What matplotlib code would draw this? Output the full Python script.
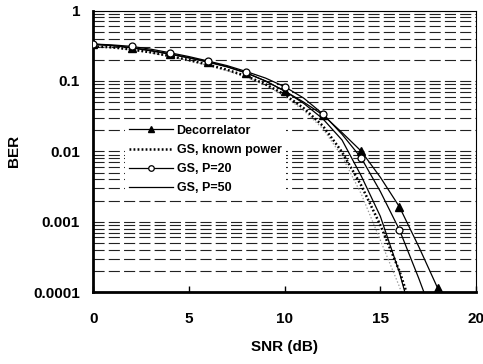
import matplotlib
matplotlib.use("Agg")
import matplotlib.pyplot as plt
from matplotlib.ticker import LogLocator, FixedLocator, NullFormatter

plt.rcParams['font.family'] = ['Liberation Sans', 'DejaVu Sans']
plt.rcParams['font.weight'] = 'bold'
plt.rcParams['lines.scale_dashes'] = False

snr_decor = [0, 1, 2, 3, 4, 5, 6, 7, 8, 9, 10, 11, 12, 13, 14, 15, 16, 17, 18]
ber_decor = [0.335, 0.318, 0.295, 0.268, 0.24, 0.212, 0.185, 0.158, 0.13, 0.1,
             0.072, 0.05, 0.033, 0.0185, 0.0101, 0.0043, 0.00163, 0.00045, 0.000114]

snr_known = [0, 1, 2, 3, 4, 5, 6, 7, 8, 9, 10, 11, 12, 13, 14, 15, 16, 17]
ber_known = [0.31, 0.30, 0.28, 0.255, 0.226, 0.198, 0.17, 0.144, 0.117, 0.09,
             0.064, 0.041, 0.023, 0.0098, 0.0033, 0.0009, 0.0002, 0.00003]

snr_grey = [0, 1, 2, 3, 4, 5, 6, 7, 8, 9, 10, 11, 12, 13, 14, 15, 16, 17]
ber_grey = [0.31, 0.298, 0.277, 0.252, 0.222, 0.194, 0.166, 0.14, 0.113, 0.087,
            0.061, 0.038, 0.021, 0.0085, 0.0025, 0.00055, 0.00012, 0.00002]

snr_p20 = [0, 1, 2, 3, 4, 5, 6, 7, 8, 9, 10, 11, 12, 13, 14, 15, 16, 17, 18]
ber_p20 = [0.335, 0.325, 0.31, 0.283, 0.252, 0.222, 0.192, 0.165, 0.136, 0.11,
           0.083, 0.057, 0.034, 0.0175, 0.0081, 0.0027, 0.00077, 0.00016, 0.00003]

snr_p50 = [0, 1, 2, 3, 4, 5, 6, 7, 8, 9, 10, 11, 12, 13, 14, 15, 16, 17]
ber_p50 = [0.33, 0.318, 0.298, 0.272, 0.243, 0.215, 0.187, 0.16, 0.13, 0.1,
           0.072, 0.048, 0.029, 0.0145, 0.0045, 0.0012, 0.00019, 0.00002]

labels = ['Decorrelator', 'GS, known power', 'GS, P=20', 'GS, P=50']
x_ticks = [0, 5, 10, 15, 20]
y_ticks = [0.0001, 0.001, 0.01, 0.1, 1]
y_ticklabels = ['0.0001', '0.001', '0.01', '0.1', '1']

fig = plt.figure(figsize=(4.83, 3.64), dpi=100)
ax = fig.add_axes([0.1932, 0.197, 0.7923, 0.774])

ax.set_yscale('log')
ax.set_xlim(0, 20)
ax.set_ylim(0.0001, 1)

# horizontal dashed grid at every decade sub-division
ax.yaxis.set_minor_locator(LogLocator(base=10, subs=range(2, 10)))
ax.yaxis.set_minor_formatter(NullFormatter())
ax.grid(True, axis='y', which='both', color='#222222', linewidth=0.8,
        linestyle=(0, (8, 3)))
ax.set_axisbelow(True)

ax.plot(snr_grey, ber_grey, color='#999999', linestyle=(0, (1, 1.5)),
        linewidth=0.9, zorder=2)
l1, = ax.plot(snr_decor, ber_decor, color='black', linewidth=0.9, marker='^',
              markersize=5.5, markevery=2, markerfacecolor='black', zorder=3,
              label=labels[0])
l2, = ax.plot(snr_known, ber_known, color='black', linewidth=1.8,
              linestyle=(0, (1.3, 1.6)), zorder=3, label=labels[1])
l3, = ax.plot(snr_p20, ber_p20, color='black', linewidth=0.9, marker='o',
              markersize=5, markevery=2, markerfacecolor='white',
              markeredgewidth=0.9, zorder=4, label=labels[2])
l4, = ax.plot(snr_p50, ber_p50, color='black', linewidth=0.9, zorder=3,
              label=labels[3])

ax.set_xticks(x_ticks)
ax.set_xticklabels([str(v) for v in x_ticks])
ax.yaxis.set_major_locator(FixedLocator(y_ticks))
ax.set_yticklabels(y_ticklabels)

ax.tick_params(axis='x', direction='in', length=4.5, width=1, pad=14,
               labelsize=11)
ax.tick_params(axis='y', which='both', length=0, pad=9.5, labelsize=11)
ax.tick_params(axis='x', which='minor', length=0)

for lab in ax.get_xticklabels() + ax.get_yticklabels():
    lab.set_fontweight('bold')

ax.spines['left'].set_linewidth(2)
ax.spines['bottom'].set_linewidth(2)
ax.spines['top'].set_linewidth(0.8)
ax.spines['right'].set_linewidth(0.8)

ax.set_xlabel('SNR (dB)', fontsize=11, fontweight='bold', labelpad=10)
ax.set_ylabel('BER', fontsize=11, fontweight='bold', labelpad=9)

leg = ax.legend(handles=[l1, l2, l3, l4], loc='upper left',
                bbox_to_anchor=(0.082, 0.610), frameon=True,
                facecolor='white', edgecolor='none', framealpha=1,
                fancybox=False, prop={'weight': 'bold', 'size': 9},
                handlelength=3.5, handletextpad=0.3, borderpad=0.35,
                borderaxespad=0, labelspacing=0.57, markerscale=0.8)
leg.get_frame().set_linewidth(0)

fig.savefig('out.png', dpi=100)
